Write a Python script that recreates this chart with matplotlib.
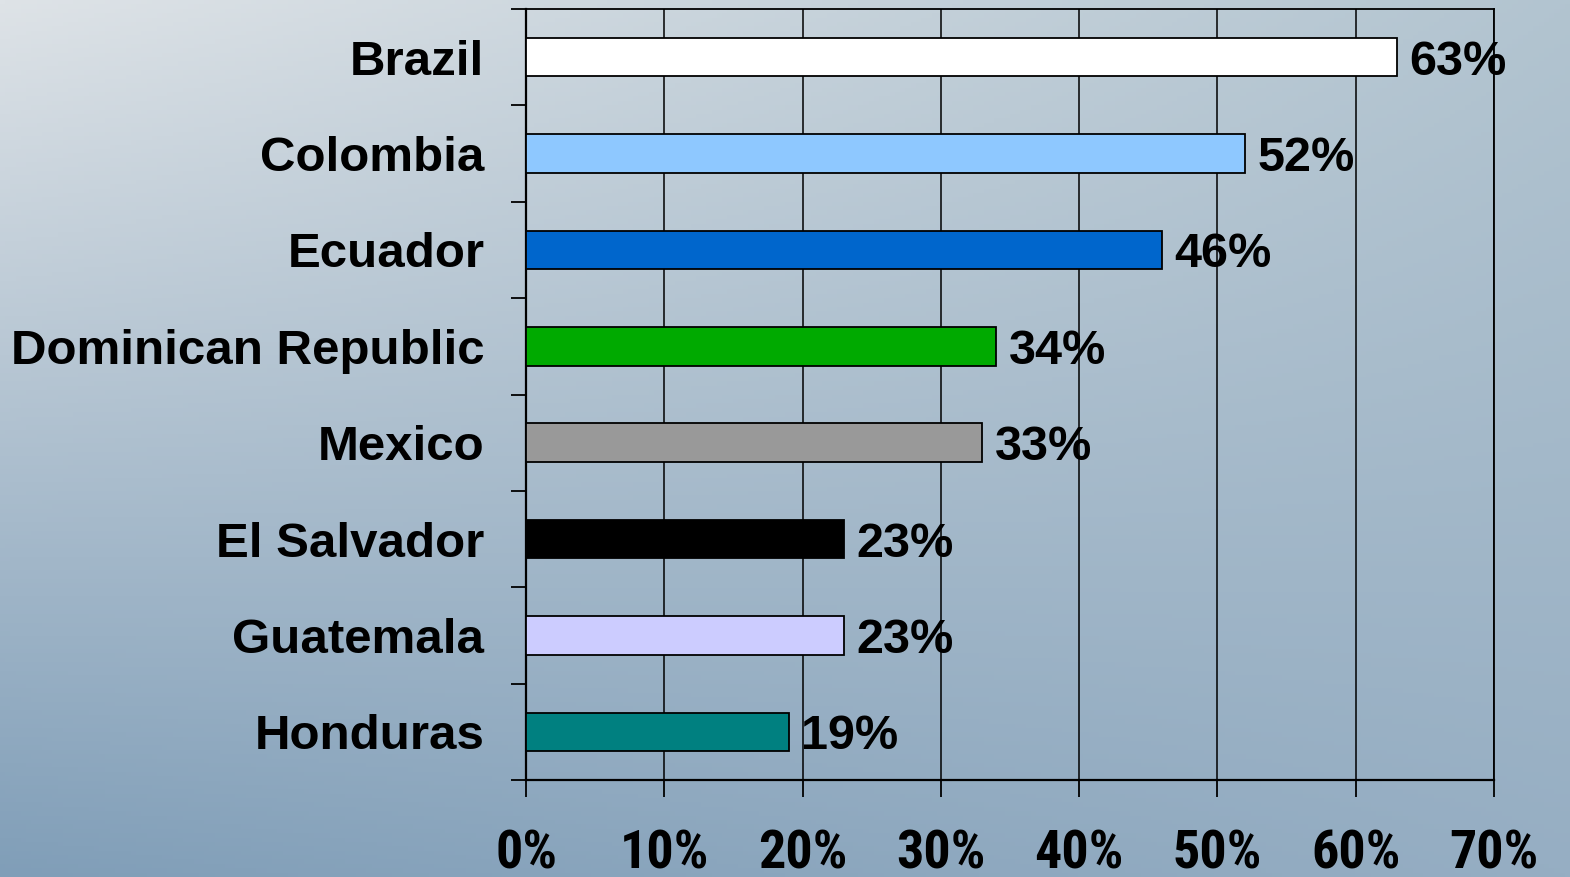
import numpy as np
import matplotlib
matplotlib.use("Agg")
import matplotlib.pyplot as plt
from matplotlib.ticker import FixedLocator, FuncFormatter
from matplotlib import font_manager

countries = ["Brazil", "Colombia", "Ecuador", "Dominican Republic",
             "Mexico", "El Salvador", "Guatemala", "Honduras"]
values = [63, 52, 46, 34, 33, 23, 23, 19]
bar_colors = ["#ffffff", "#8ec8ff", "#0066cc", "#00aa00",
              "#999999", "#000000", "#ccccff", "#008080"]
x_ticks = [0, 10, 20, 30, 40, 50, 60, 70]

names = {f.name for f in font_manager.fontManager.ttflist}
narrow = None
for cand in ["Liberation Sans Narrow", "Arial Narrow", "Roboto Condensed"]:
    if cand in names:
        narrow = cand
        break

W, H = 1570, 877
fig = plt.figure(figsize=(W / 100, H / 100), dpi=100)

# background gradient
bg = fig.add_axes([0, 0, 1, 1])
bg.set_axis_off()
yy, xx = np.mgrid[0:1:200j, 0:1:300j]
tl = np.array([222, 227, 231]) / 255
tr = np.array([178, 196, 208]) / 255
bl = np.array([128, 158, 184]) / 255
br = np.array([150, 174, 195]) / 255
img = (tl[None, None, :] * ((1 - xx) * (1 - yy))[..., None]
       + tr[None, None, :] * (xx * (1 - yy))[..., None]
       + bl[None, None, :] * ((1 - xx) * yy)[..., None]
       + br[None, None, :] * (xx * yy)[..., None])
bg.imshow(img, aspect="auto", extent=[0, 1, 0, 1], origin="upper")
bg.set_xlim(0, 1)
bg.set_ylim(0, 1)

ax = fig.add_axes([526 / W, 1 - 780 / H, (1494 - 526) / W, (780 - 9) / H])
ax.patch.set_alpha(0)

y = np.arange(len(countries))
ax.barh(y, values, height=0.40, color=bar_colors, edgecolor="black",
        linewidth=1.3, zorder=3)

ax.set_xlim(0, 70)
ax.set_ylim(len(countries) - 0.5, -0.5)

ax.xaxis.set_major_locator(FixedLocator(x_ticks))
ax.xaxis.set_major_formatter(FuncFormatter(lambda v, p: f"{int(v)}%"))
ax.grid(axis="x", color="black", linewidth=1.1, zorder=1)
ax.tick_params(axis="x", length=12, width=1.3, color="black", pad=23)
for lab in ax.get_xticklabels():
    if narrow:
        lab.set_fontfamily([narrow, "DejaVu Sans"])
        lab.set_fontsize(39)
    else:
        lab.set_fontfamily(["Liberation Sans", "DejaVu Sans"])
        lab.set_fontsize(34)
    lab.set_fontweight("bold")

ax.set_yticks(y)
ax.set_yticklabels(countries)
ax.tick_params(axis="y", which="major", length=0, pad=30)
ax.yaxis.set_minor_locator(FixedLocator(np.arange(-0.5, len(countries), 1.0)))
ax.tick_params(axis="y", which="minor", length=11, width=1.3, color="black")
for lab in ax.get_yticklabels():
    lab.set_fontfamily(["Liberation Sans", "DejaVu Sans"])
    lab.set_fontweight("bold")
    lab.set_fontsize(35.5)

for s in ax.spines.values():
    s.set_color("black")
    s.set_linewidth(1.3)
ax.spines["left"].set_linewidth(1.6)
ax.spines["bottom"].set_linewidth(1.6)

for yi, v in zip(y, values):
    ax.annotate(f"{v}%", xy=(v, yi), xytext=(9, 0), textcoords="offset points",
                va="center_baseline", ha="left", fontsize=35, fontweight="bold",
                family=["Liberation Sans", "DejaVu Sans"], zorder=5)

fig.savefig("out.png", dpi=100)
